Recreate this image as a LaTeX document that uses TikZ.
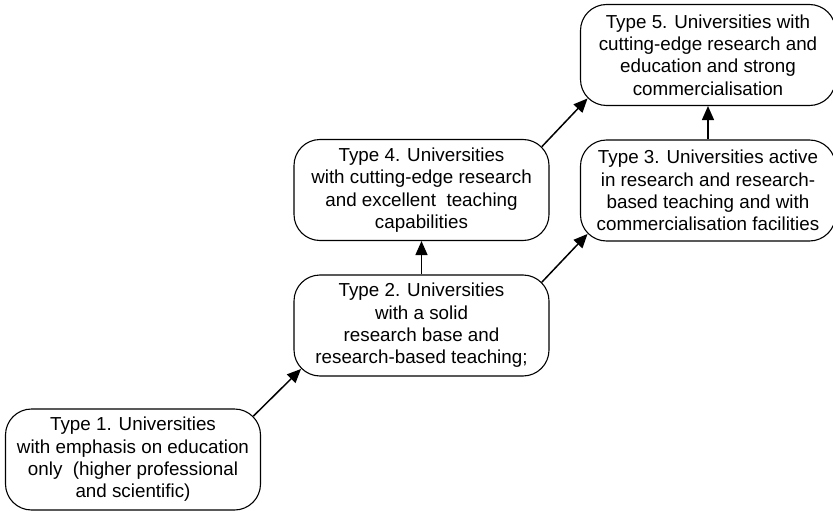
\documentclass[tikz,border=0pt]{standalone}
\usepackage{fontspec}
\setmainfont{Liberation Sans}
\usetikzlibrary{arrows.meta,calc}
\begin{document}
\begin{tikzpicture}[x=1pt,y=-1pt,
  unibox/.style={draw, line width=1.1pt, rounded corners=26pt,
    minimum width=255pt, minimum height=101pt, inner sep=0pt,
    align=center, font=\fontsize{18.8}{22.3}\selectfont},
  link/.style={line width=1.5pt, -{Triangle[length=14pt,width=12pt]}}]
\useasboundingbox (0,0) rectangle (833,511);
% the five university types
\node[unibox] (t1) at (133,459.5) {Type 1. Universities\\with emphasis on education\\only~ (higher professional\\and scientific)};
\node[unibox] (t2) at (421.5,325.5) {Type 2. Universities\\with a solid\\research base and\\research-based teaching;};
\node[unibox] (t4) at (421.5,190) {Type 4. Universities\\with cutting-edge research\\and excellent~ teaching\\capabilities};
\node[unibox] (t3) at (708,190.5) {Type 3. Universities active\\in research and research-\\based teaching and with\\commercialisation facilities};
\node[unibox] (t5) at (708,55) {Type 5. Universities with\\cutting-edge research and\\education and strong\\commercialisation};
% progression arrows (diagonals leave and enter at the rounded corners)
\draw[link] ($(t1.north east)+(-7.6,7.6)$) -- ($(t2.south west)+(7.6,-7.6)$);
\draw[link] ($(t2.north east)+(-7.6,7.6)$) -- ($(t3.south west)+(7.6,-7.6)$);
\draw[link] ($(t4.north east)+(-7.6,7.6)$) -- ($(t5.south west)+(7.6,-7.6)$);
\draw[link] (t2.north) -- (t4.south);
\draw[link] (t3.north) -- (t5.south);
\end{tikzpicture}
\end{document}
